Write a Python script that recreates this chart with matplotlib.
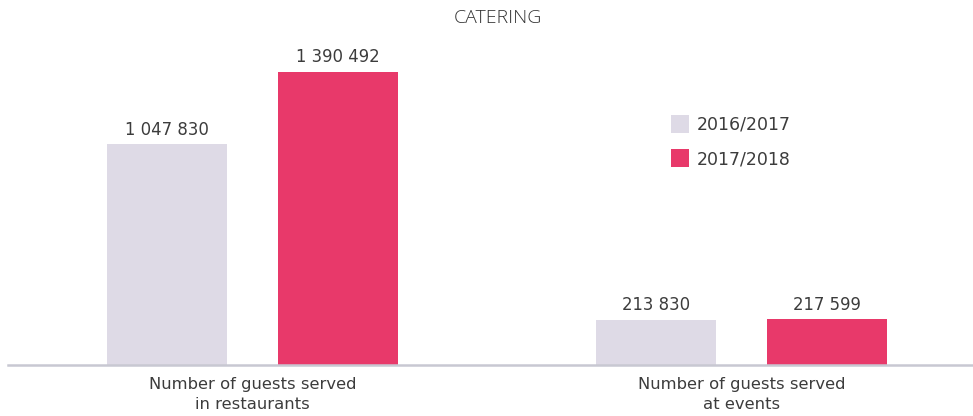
import matplotlib
matplotlib.use("Agg")
import matplotlib.pyplot as plt
import numpy as np

plt.rcParams['font.family'] = ['DejaVu Sans']

categories = ['Number of guests served\nin restaurants', 'Number of guests served\nat events']
seasons = ['2016/2017', '2017/2018']
values_2016 = [1047830, 213830]
values_2018 = [1390492, 217599]

colors = ['#dedae6', '#e8396a']
text_color = '#3c3c3c'

fig = plt.figure(figsize=(9.73, 4.16), dpi=100)
ax = fig.add_axes([8 / 973, 51 / 416, 965 / 973, 293 / 416])

x = np.arange(len(categories))
w = 0.245
off = 0.175

b1 = ax.bar(x - off, values_2016, w, color=colors[0], label=seasons[0])
b2 = ax.bar(x + off, values_2018, w, color=colors[1], label=seasons[1])

def fmt(v):
    return f"{v:,}".replace(",", " ")

for bars, vals in [(b1, values_2016), (b2, values_2018)]:
    for rect, v in zip(bars, vals):
        ax.annotate(fmt(v), (rect.get_x() + rect.get_width() / 2, v),
                    xytext=(0, 4), textcoords='offset points',
                    ha='center', va='bottom', fontsize=11.9, color=text_color,
                    annotation_clip=False)

ax.set_xlim(-0.5, 1.473)
ax.set_ylim(0, 1390492)
ax.set_xticks(x)
ax.set_xticklabels(categories, fontsize=11.8, color=text_color, linespacing=1.35)
ax.tick_params(axis='x', length=0, pad=9)
ax.set_yticks([])
for s in ['top', 'right', 'left']:
    ax.spines[s].set_visible(False)
ax.spines['bottom'].set_color('#c8c8d2')
ax.spines['bottom'].set_linewidth(1.8)

fig.text(498 / 973, 1 - 18 / 416, 'CATERING', ha='center', va='center',
         fontsize=14, color='#333333', family=['Open Sans', 'DejaVu Sans'],
         fontweight='light')

leg = fig.legend(handles=[b1, b2], loc='upper left',
                 bbox_to_anchor=(671 / 973, 1 - 115 / 416), frameon=False,
                 borderpad=0, borderaxespad=0,
                 fontsize=12.5, handlelength=1.03, handleheight=1.23,
                 labelspacing=0.88, handletextpad=0.45, labelcolor=text_color)

fig.savefig('out.png', dpi=100)
